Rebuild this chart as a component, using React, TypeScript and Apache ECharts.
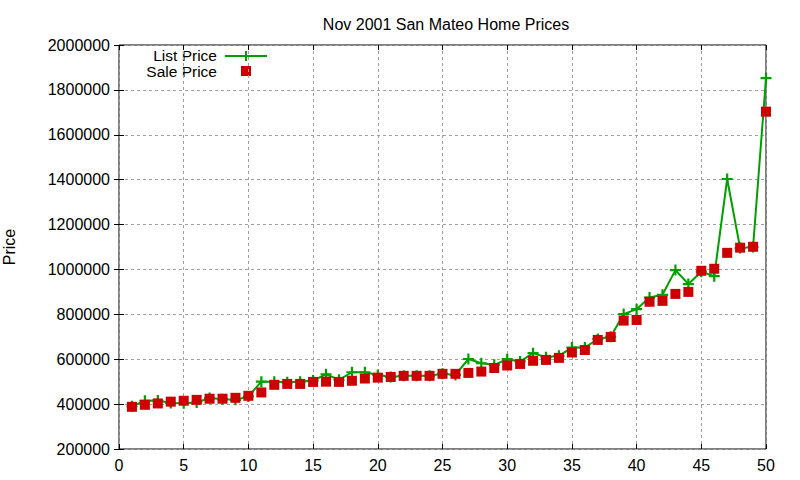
import { useEffect, useRef } from "react";
import * as echarts from "echarts";

// house number on the x axis
const houses = [
  1, 2, 3, 4, 5, 6, 7, 8, 9, 10, 11, 12, 13, 14, 15, 16, 17, 18, 19, 20, 21, 22, 23, 24, 25,
  26, 27, 28, 29, 30, 31, 32, 33, 34, 35, 36, 37, 38, 39, 40, 41, 42, 43, 44, 45, 46, 47, 48, 49, 50,
];

const listPrice = [
  390000, 415000, 416000, 405000, 404000, 407000, 427000, 422000, 419000, 434000,
  500000, 500000, 497000, 500000, 505000, 533000, 508000, 542000, 542000, 530000,
  521000, 526000, 526000, 526000, 535000, 530000, 601000, 582000, 575000, 600000,
  590000, 627000, 609000, 615000, 652000, 652000, 690000, 700000, 801000, 823000,
  875000, 887000, 997000, 935000, 990000, 970000, 1403000, 1095000, 1100000, 1852000,
];

const salePrice = [
  388000, 397000, 403000, 411000, 415000, 419000, 424000, 424000, 428000, 437000,
  452000, 486000, 490000, 490000, 499000, 500000, 499000, 504000, 514000, 518000,
  521000, 526000, 526000, 526000, 535000, 535000, 539000, 545000, 561000, 572000,
  579000, 593000, 597000, 606000, 630000, 641000, 686000, 699000, 772000, 775000,
  856000, 860000, 891000, 900000, 994000, 1003000, 1074000, 1097000, 1101000, 1703000,
];

const GREEN = "#00a000";
const RED = "#cc0000";
const FONT = "'Liberation Sans', Arial, sans-serif";
const PLUS = "path://M4,0h2v4h4v2h-4v4h-2v-4h-4v-2h4z";

const App = () => {
  const containerRef = useRef<HTMLDivElement>(null);

  useEffect(() => {
    if (!containerRef.current) return;
    document.body.style.margin = "0";

    const chart = echarts.init(containerRef.current, undefined, { renderer: "svg" });

    const gridLine = { show: true, lineStyle: { color: "#a0a0a0", type: [3, 3], width: 1 } };
    const tick = { show: true, inside: true, length: 5, lineStyle: { color: "#000" } };

    chart.setOption({
      animation: false,
      backgroundColor: "#fff",
      textStyle: { fontFamily: FONT },
      title: {
        text: "Nov 2001 San Mateo Home Prices",
        left: 441,
        textAlign: "center",
        top: 11,
        textStyle: { fontSize: 16, fontWeight: "normal", color: "#000", fontFamily: FONT },
      },
      grid: {
        left: 119,
        right: 34,
        top: 45,
        bottom: 31,
        outerBoundsMode: "none",
        containLabel: false,
        show: true,
        borderColor: "#000",
        borderWidth: 1,
      },
      xAxis: [
        {
          type: "value",
          min: 0,
          max: 50,
          interval: 5,
          axisLine: { show: false },
          axisTick: tick,
          splitLine: gridLine,
          axisLabel: { color: "#000", fontSize: 16, margin: 8, fontFamily: FONT },
        },
        {
          type: "value",
          position: "top",
          min: 0,
          max: 50,
          interval: 5,
          axisLine: { show: false },
          axisTick: tick,
          splitLine: { show: false },
          axisLabel: { show: false },
        },
      ],
      yAxis: [
        {
          type: "value",
          min: 200000,
          max: 2000000,
          interval: 200000,
          axisLine: { show: false },
          axisTick: tick,
          splitLine: gridLine,
          axisLabel: {
            color: "#000",
            fontSize: 16,
            margin: 9,
            fontFamily: FONT,
            formatter: (v: number) => String(v),
          },
          name: "Price",
          nameLocation: "middle",
          nameGap: 102,
          nameTextStyle: { color: "#000", fontSize: 16, fontFamily: FONT },
        },
        {
          type: "value",
          position: "right",
          min: 200000,
          max: 2000000,
          interval: 200000,
          axisLine: { show: false },
          axisTick: tick,
          splitLine: { show: false },
          axisLabel: { show: false },
        },
      ],
      series: [
        {
          name: "List Price",
          type: "line",
          data: houses.map((h, i) => [h, listPrice[i]]),
          symbol: PLUS,
          symbolSize: 11,
          showSymbol: true,
          lineStyle: { color: GREEN, width: 2 },
          itemStyle: { color: GREEN, opacity: 1 },
          z: 2,
        },
        {
          name: "Sale Price",
          type: "scatter",
          data: houses.map((h, i) => [h, salePrice[i]]),
          symbol: "rect",
          symbolSize: 10,
          itemStyle: { color: RED, opacity: 1 },
          z: 3,
        },
      ],
      graphic: [
        {
          type: "text",
          x: 217,
          y: 55,
          style: {
            text: "List Price",
            align: "right",
            verticalAlign: "middle",
            fontSize: 15.5,
            lineHeight: 14,
            fontFamily: FONT,
            fill: "#000",
          },
        },
        {
          type: "line",
          shape: { x1: 225, y1: 56, x2: 267, y2: 56 },
          style: { stroke: GREEN, lineWidth: 2 },
        },
        {
          type: "line",
          shape: { x1: 246, y1: 51, x2: 246, y2: 61 },
          style: { stroke: GREEN, lineWidth: 2 },
        },
        {
          type: "text",
          x: 217,
          y: 71,
          style: {
            text: "Sale Price",
            align: "right",
            verticalAlign: "middle",
            fontSize: 15.5,
            lineHeight: 14,
            fontFamily: FONT,
            fill: "#000",
          },
        },
        {
          type: "rect",
          shape: { x: 241, y: 66, width: 10, height: 10 },
          style: { fill: RED },
        },
      ],
    });

    return () => {
      chart.dispose();
    };
  }, []);

  return <div ref={containerRef} style={{ width: "800px", height: "480px" }} />;
};

export default App;
